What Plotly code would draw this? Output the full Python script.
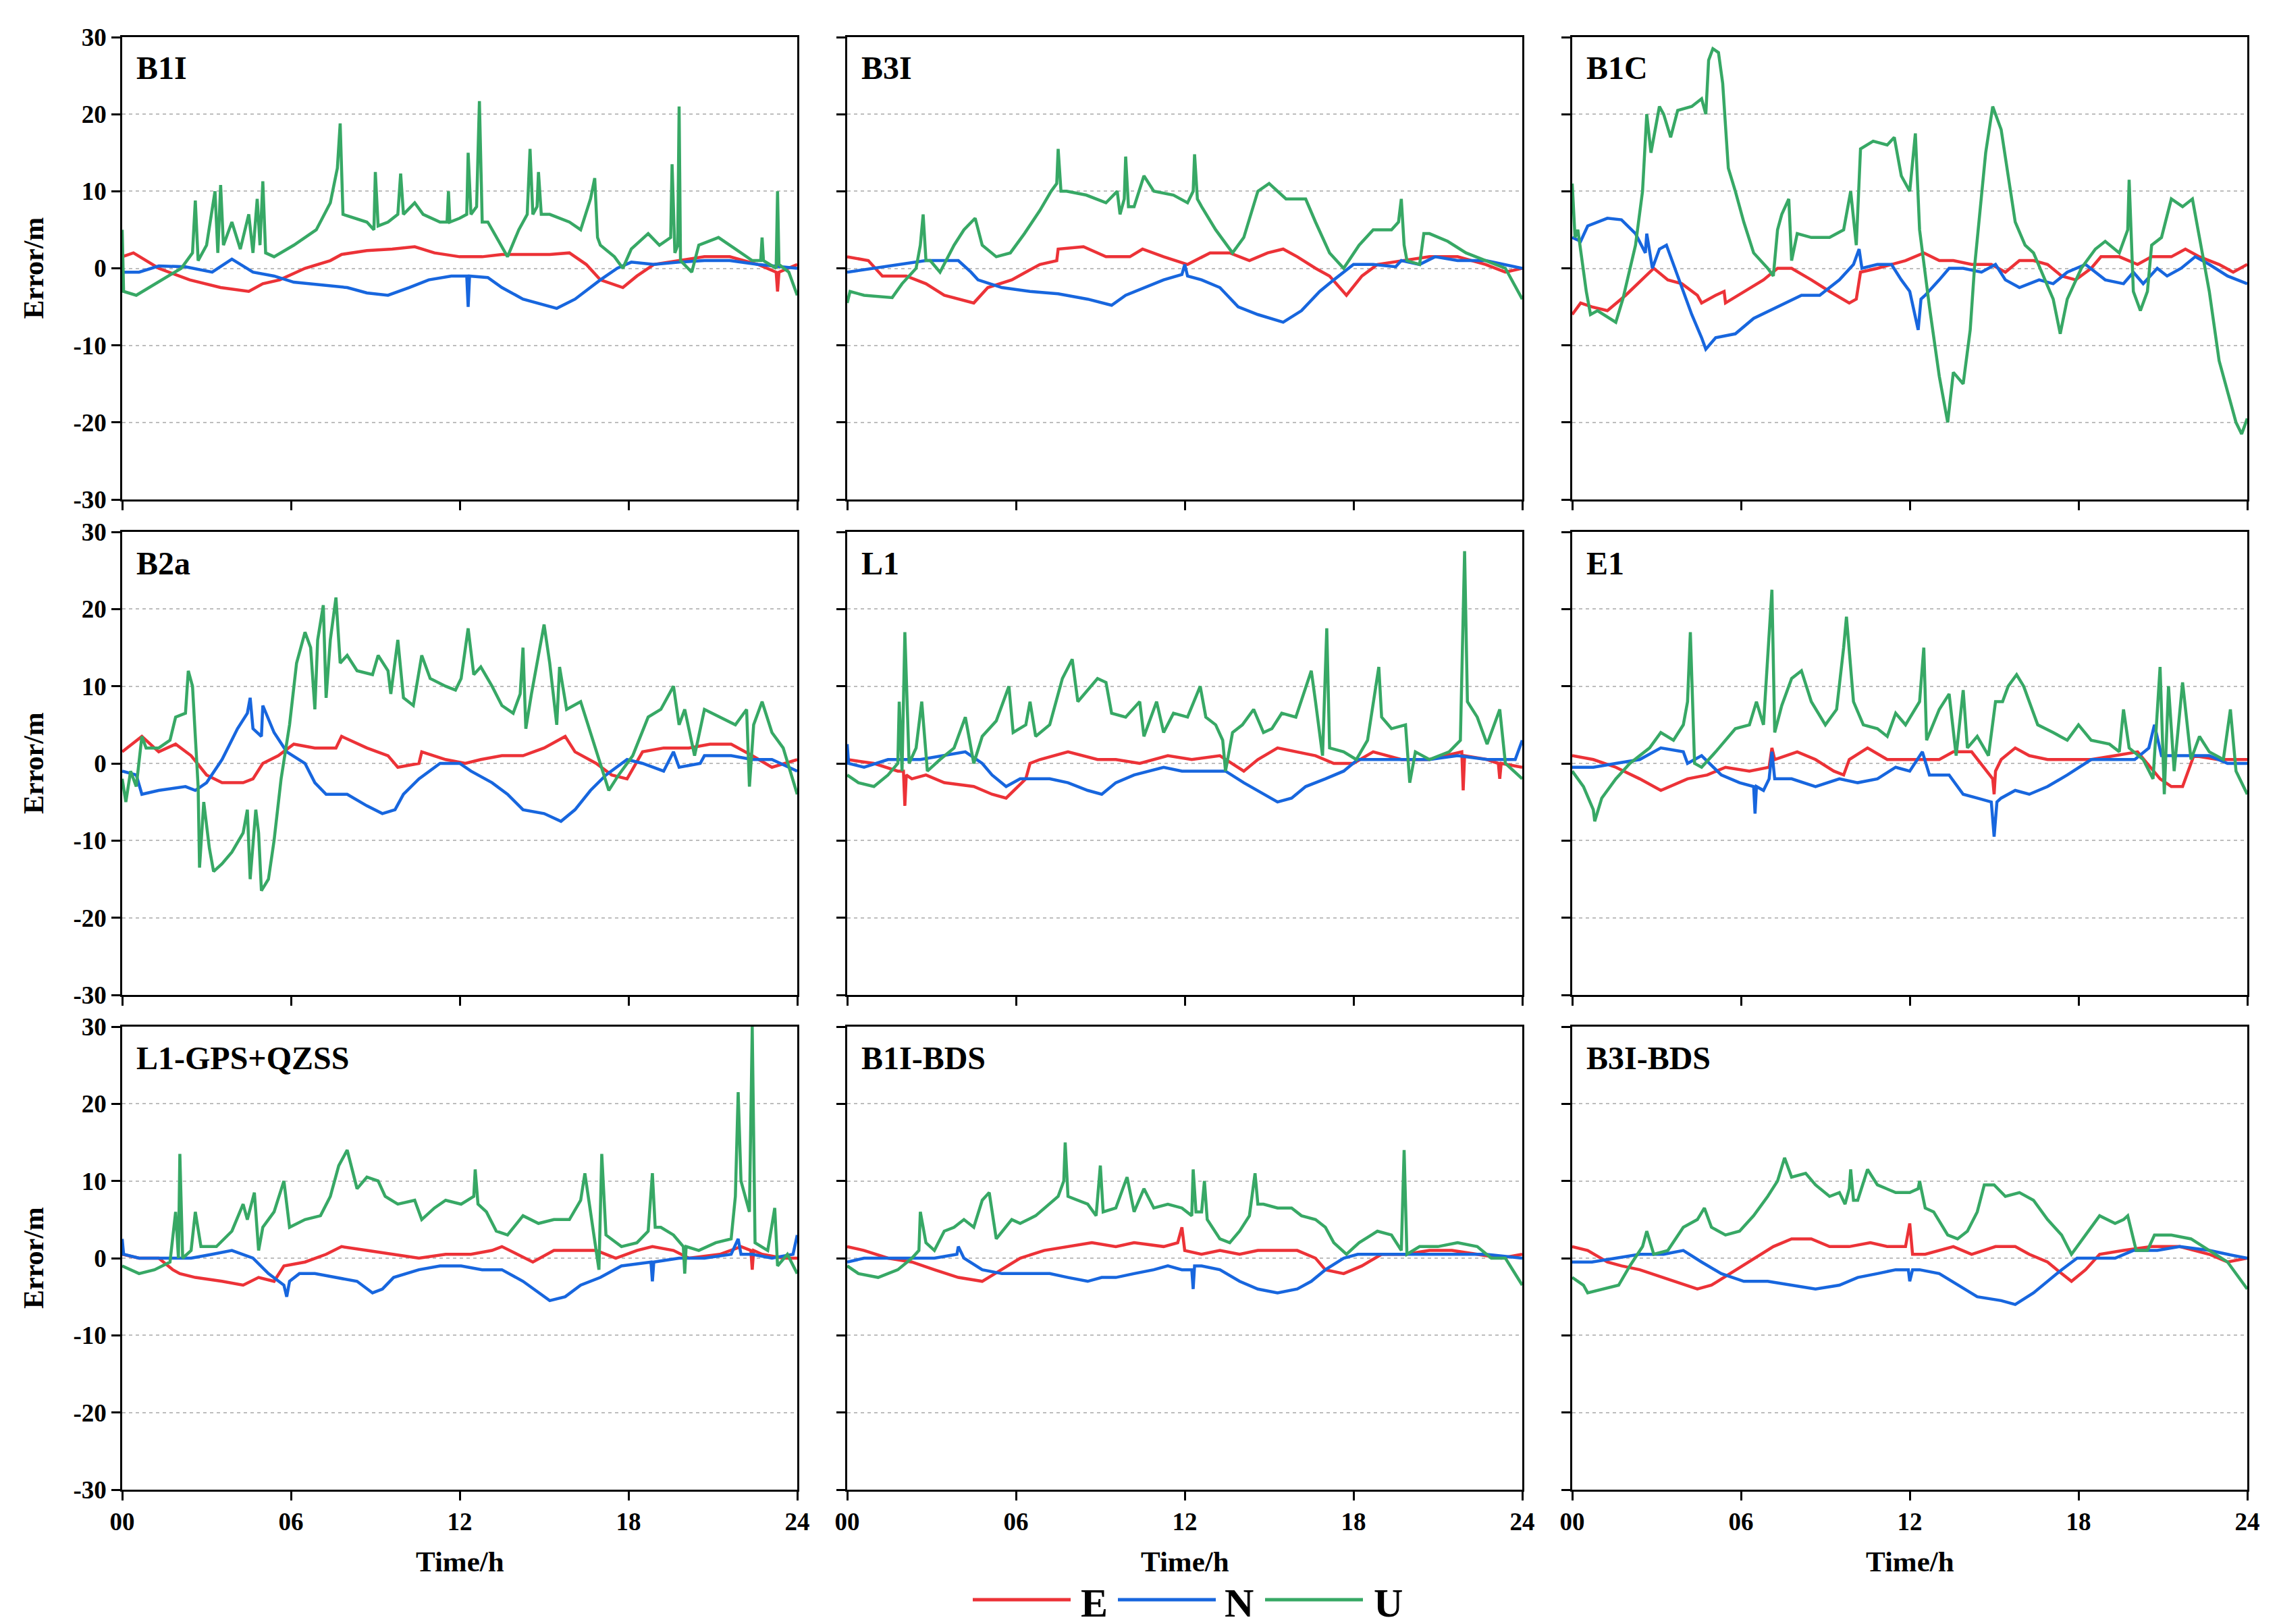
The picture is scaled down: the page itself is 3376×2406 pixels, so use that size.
import plotly.graph_objects as go

# ---------------- data: (time [h], error [m]) ----------------
B1I_E = [(0,1.5),(0.4,2),(1.3,0),(2.4,-1.5),(3.5,-2.5),(4.5,-3),(5.0,-2),(5.6,-1.5),(6.5,0),(7.4,1),(7.8,1.8),(8.7,2.3),(9.6,2.5),(10.4,2.8),(11.1,2),(12.0,1.5),(12.8,1.5),(13.5,1.8),(14.25,1.8),(15.2,1.8),(15.9,2),(16.5,0.5),(17.0,-1.5),(17.8,-2.5),(18.3,-1),(18.9,0.5),(19.8,1),(20.7,1.5),(21.6,1.5),(22.6,0.5),(23.25,-0.5),(23.3,-3),(23.35,-0.5),(24,0.5)]
B1I_N = [(0,-0.5),(0.6,-0.5),(1.3,0.3),(2.25,0.2),(3.2,-0.5),(3.9,1.2),(4.65,-0.5),(5.4,-1),(6.1,-1.8),(7.2,-2.2),(8.0,-2.5),(8.7,-3.2),(9.45,-3.5),(10.2,-2.5),(10.9,-1.5),(11.7,-1),(12.25,-1),(12.3,-5),(12.35,-1),(13.0,-1.2),(13.5,-2.5),(14.25,-4),(15.0,-4.8),(15.45,-5.2),(16.1,-4),(16.65,-2.5),(17.0,-1.5),(17.6,0),(18.1,0.8),(18.9,0.5),(19.8,0.8),(20.7,1),(21.6,1),(22.6,0.5),(24,0)]
B1I_U = [(0,5),(0.05,-3),(0.5,-3.5),(1.2,-2),(2.1,0),(2.5,2),(2.6,8.8),(2.7,1),(3.0,3),(3.3,10),(3.4,2),(3.5,10.8),(3.6,3),(3.9,6),(4.2,2.5),(4.5,7),(4.65,2),(4.8,9),(4.9,3),(5.0,11.3),(5.1,2),(5.4,1.5),(6.1,3),(6.9,5),(7.4,8.5),(7.65,13),(7.75,18.8),(7.85,7),(8.7,6),(8.95,5),(9.0,12.5),(9.1,5.5),(9.45,6),(9.8,7),(9.9,12.3),(10.0,7),(10.4,8.5),(10.7,7),(11.3,6),(11.55,6),(11.6,10),(11.65,6),(12.0,6.5),(12.25,7),(12.3,15),(12.4,7),(12.6,8),(12.7,21.7),(12.8,6),(13.0,6),(13.4,3.5),(13.7,1.5),(14.1,5),(14.4,7),(14.5,15.5),(14.6,7),(14.75,8),(14.8,12.5),(14.9,7),(15.2,7),(15.9,6),(16.3,5),(16.65,9),(16.8,11.7),(16.9,4),(17.0,3),(17.5,1.5),(17.8,0),(18.1,2.5),(18.7,4.5),(19.1,3),(19.5,4),(19.55,13.5),(19.65,2),(19.75,3),(19.8,21),(19.85,1),(20.25,-0.5),(20.5,3),(21.2,4),(21.8,2.5),(22.4,1),(22.7,1),(22.75,4),(22.8,1),(23.25,0),(23.3,10),(23.35,0.5),(23.7,-0.5),(24,-3.5)]

B3I_E = [(0,1.5),(0.75,1),(1.25,-1),(2.1,-1),(2.8,-2),(3.45,-3.5),(4.5,-4.5),(5.0,-2.5),(5.85,-1.5),(6.85,0.5),(7.45,1),(7.5,2.5),(8.4,2.8),(9.2,1.5),(10.05,1.5),(10.5,2.5),(11.25,1.5),(12.1,0.5),(12.9,2),(13.6,2),(14.3,1),(14.95,2),(15.5,2.5),(16.0,1.5),(16.65,0),(17.15,-1),(17.75,-3.5),(18.3,-1),(18.85,0.5),(19.7,1),(20.7,1.5),(21.7,1.5),(22.7,0.5),(23.4,-0.5),(24,0)]
B3I_N = [(0,-0.5),(0.95,0),(1.8,0.5),(2.8,1),(3.95,1),(4.4,-0.5),(4.65,-1.5),(5.5,-2.5),(6.5,-3),(7.5,-3.3),(8.55,-4),(9.4,-4.8),(9.9,-3.5),(10.55,-2.5),(11.25,-1.5),(11.9,-0.8),(12.0,0.5),(12.1,-1),(12.6,-1.5),(13.25,-2.5),(13.9,-5),(14.6,-6),(15.5,-7),(16.15,-5.5),(16.8,-3),(17.3,-1.5),(18.0,0.5),(18.7,0.5),(19.5,0.2),(19.7,1),(20.35,0.5),(20.9,1.5),(21.7,1),(22.7,1),(24,0)]
B3I_U = [(0,-4.5),(0.1,-3),(0.6,-3.5),(1.6,-3.8),(1.95,-2),(2.45,0),(2.6,3),(2.7,7),(2.8,1),(2.95,1),(3.3,-0.5),(3.8,3),(4.15,5),(4.55,6.5),(4.8,3),(5.3,1.5),(5.8,2),(6.3,4.5),(6.85,7.5),(7.25,10),(7.45,11),(7.5,15.5),(7.6,10),(7.8,10),(8.5,9.5),(9.2,8.5),(9.6,10),(9.7,7),(9.85,9),(9.9,14.5),(10.0,8),(10.2,8),(10.55,12),(10.9,10),(11.6,9.5),(12.1,8.5),(12.3,10),(12.35,14.8),(12.45,9),(12.6,8),(13.1,5),(13.7,2),(14.1,4),(14.6,10),(15.0,11),(15.6,9),(16.3,9),(16.65,6),(17.15,2),(17.65,0),(18.2,3),(18.7,5),(19.35,5),(19.6,6),(19.7,9),(19.8,3),(19.9,1),(20.35,0.5),(20.5,4.5),(20.7,4.5),(21.35,3.5),(22.0,2),(22.7,1),(23.4,0),(24,-4)]

B1C_E = [(0,-6),(0.3,-4.5),(0.7,-5),(1.25,-5.5),(1.9,-3.5),(2.6,-1),(2.9,0),(3.4,-1.5),(3.9,-2),(4.45,-3.5),(4.6,-4.5),(5.1,-3.5),(5.4,-3),(5.45,-4.5),(6.1,-3),(6.8,-1.5),(7.3,0),(7.8,0),(8.5,-1.5),(9.15,-3),(9.85,-4.5),(10.1,-4),(10.25,-0.5),(10.85,0),(11.85,1),(12.5,2),(13.05,1),(13.55,1),(14.2,0.5),(14.9,0.5),(15.4,-0.5),(15.9,1),(16.4,1),(16.9,0.5),(17.4,-1),(17.9,-1.5),(18.45,0),(18.8,1.5),(19.45,1.5),(20.1,0.5),(20.6,1.5),(21.3,1.5),(21.8,2.5),(22.3,1.5),(23.0,0.5),(23.5,-0.5),(24,0.5)]
B1C_N = [(0,4),(0.3,3.5),(0.55,5.5),(1.25,6.5),(1.75,6.3),(2.25,4.5),(2.6,2),(2.65,4.5),(2.85,0),(3.1,2.5),(3.35,3),(3.6,0.5),(3.95,-3),(4.25,-6),(4.6,-9),(4.75,-10.5),(5.1,-9),(5.8,-8.5),(6.45,-6.5),(7.3,-5),(8.15,-3.5),(8.8,-3.5),(9.5,-1.5),(10.0,0.5),(10.2,2.5),(10.3,0),(10.85,0.5),(11.35,0.5),(11.7,-1.5),(12.0,-3),(12.3,-8),(12.4,-4),(12.55,-3.5),(13.05,-1.5),(13.4,0),(13.9,0),(14.55,-0.5),(15.05,0.5),(15.4,-1.5),(15.9,-2.5),(16.6,-1.5),(17.1,-2),(17.6,-0.5),(18.25,0.5),(18.95,-1.5),(19.6,-2),(19.95,-0.5),(20.3,-2),(20.8,0),(21.15,-1),(21.65,0),(22.15,1.5),(22.65,0.5),(23.3,-1),(24,-2)]
B1C_U = [(0,11),(0.1,4),(0.2,5),(0.5,-3),(0.65,-6),(0.9,-5.5),(1.55,-7),(1.8,-4),(2.25,3),(2.5,10),(2.65,20),(2.8,15),(2.95,18),(3.1,21),(3.25,20),(3.5,17),(3.75,20.5),(4.25,21),(4.6,22),(4.75,20),(4.85,27),(5.0,28.5),(5.2,28),(5.35,24),(5.55,13),(5.8,10),(6.1,6),(6.45,2),(6.95,0),(7.15,-1),(7.3,5),(7.45,7),(7.7,9),(7.8,1),(8.0,4.5),(8.5,4),(9.15,4),(9.65,5),(9.9,10),(10.1,3),(10.25,15.5),(10.7,16.5),(11.2,16),(11.45,17),(11.7,12),(12.0,10),(12.2,17.5),(12.35,5),(12.7,-5),(13.05,-14),(13.35,-20),(13.55,-13.5),(13.9,-15),(14.15,-8),(14.3,0),(14.5,8),(14.7,15),(14.95,21),(15.25,18),(15.5,12),(15.75,6),(16.1,3),(16.4,2),(16.75,-1),(17.1,-4),(17.35,-8.5),(17.6,-4),(18.1,0),(18.6,2.5),(18.95,3.5),(19.45,2),(19.75,5),(19.8,11.5),(19.95,-3),(20.2,-5.5),(20.45,-3),(20.6,3),(20.95,4),(21.3,9),(21.7,8),(22.05,9),(22.3,4),(22.65,-3),(23.0,-12),(23.3,-16),(23.6,-20),(23.8,-21.5),(24,-19.5)]

B2a_E = [(0,1.5),(0.7,3.5),(1.3,1.5),(1.9,2.5),(2.45,1),(3.0,-1.5),(3.55,-2.5),(4.3,-2.5),(4.65,-2),(5.0,0),(5.55,1),(6.1,2.5),(6.85,2),(7.6,2),(7.8,3.5),(8.7,2),(9.45,1),(9.8,-0.5),(10.55,0),(10.65,1.5),(11.5,0.5),(12.2,0),(12.75,0.5),(13.5,1),(14.25,1),(15.0,2),(15.75,3.5),(16.1,1.5),(16.85,0),(17.4,-1.5),(17.95,-2),(18.5,1.5),(19.25,2),(20.15,2),(20.9,2.5),(21.65,2.5),(22.4,1),(23.1,-0.5),(24,0.5)]
B2a_N = [(0,-1),(0.5,-1.5),(0.7,-4),(1.3,-3.5),(2.25,-3),(2.6,-3.5),(3.0,-2.5),(3.55,0.5),(4.1,4.5),(4.45,6.5),(4.55,8.5),(4.65,4.5),(4.95,3.5),(5.0,7.5),(5.4,4),(5.85,1.5),(6.5,0),(6.85,-2.5),(7.25,-4),(8.0,-4),(8.7,-5.5),(9.25,-6.5),(9.7,-6),(10.0,-4),(10.55,-2),(11.3,0),(12.0,0),(12.4,-1),(13.15,-2.5),(13.7,-4),(14.25,-6),(15.0,-6.5),(15.6,-7.5),(16.1,-6),(16.65,-3.5),(17.2,-1.5),(17.95,0.5),(18.5,0),(19.25,-1),(19.6,1.5),(19.8,-0.5),(20.55,0),(20.7,1),(21.65,1),(22.4,0.5),(23.1,0.5),(24,-1)]
B2a_U = [(0,-2),(0.13,-5),(0.3,-1),(0.5,-3),(0.7,3.5),(0.85,2),(1.3,2),(1.7,3),(1.9,6),(2.25,6.5),(2.35,12),(2.5,10),(2.7,-3),(2.75,-13.5),(2.9,-5),(3.1,-11),(3.25,-14),(3.55,-13),(3.9,-11.5),(4.3,-9),(4.45,-6),(4.55,-15),(4.75,-6),(4.85,-9),(4.95,-16.5),(5.2,-15),(5.4,-10),(5.65,-2),(5.95,5),(6.2,13),(6.5,17),(6.7,15),(6.85,7),(6.95,16),(7.15,20.5),(7.25,8.5),(7.4,16),(7.6,21.5),(7.75,13),(8.0,14),(8.35,12),(8.9,11.5),(9.1,14),(9.45,12),(9.55,9),(9.8,16),(10.0,8.5),(10.35,7.5),(10.65,14),(10.95,11),(11.5,10),(11.85,9.5),(12.05,11),(12.3,17.5),(12.5,11.5),(12.75,12.5),(13.15,10),(13.5,7.5),(13.9,6.5),(14.15,9),(14.25,15),(14.35,4.5),(14.55,9),(14.8,14),(15.0,18),(15.2,13),(15.45,5),(15.55,12.5),(15.8,7),(16.3,8),(16.65,4),(17.0,0),(17.3,-3.5),(17.65,-1.5),(18.15,1),(18.7,6),(19.15,7),(19.6,10),(19.8,5),(20.0,7),(20.35,1),(20.7,7),(21.25,6),(21.8,5),(22.2,7),(22.3,-3),(22.45,5),(22.75,8),(23.1,4),(23.5,2),(24,-4)]

L1_E = [(0,0.5),(0.95,0),(1.8,-1),(2.0,-1),(2.05,-5.5),(2.1,-1.5),(2.3,-2),(2.8,-1.5),(3.45,-2.5),(4.5,-3),(5.15,-4),(5.65,-4.5),(6.35,-2),(6.5,0),(6.85,0.5),(7.85,1.5),(8.9,0.5),(9.55,0.5),(10.4,0),(11.4,1),(12.25,0.5),(13.25,1),(14.1,-1),(14.6,0.5),(15.3,2),(15.95,1.5),(16.65,1),(17.3,0),(18.0,0),(18.7,1.5),(19.7,0.5),(20.7,0.5),(21.85,1.5),(21.9,-3.5),(21.95,1),(22.75,0.5),(23.15,0),(23.2,-2),(23.25,0),(24,-0.5)]
L1_N = [(0,2.5),(0.05,0),(0.6,-0.5),(1.45,0.5),(2.6,0.5),(3.45,1),(4.2,1.5),(4.8,0),(5.15,-1.5),(5.65,-3),(6.15,-2),(6.5,-2),(7.2,-2),(7.85,-2.5),(8.55,-3.5),(9.05,-4),(9.55,-2.5),(10.2,-1.5),(11.25,-0.5),(11.9,-1),(12.6,-1),(13.45,-1),(14.1,-2.5),(14.8,-4),(15.3,-5),(15.8,-4.5),(16.3,-3),(17.0,-2),(17.65,-1),(18.15,0.5),(18.85,0.5),(19.7,0.5),(20.7,0.5),(21.7,1),(22.75,0.5),(23.75,0.5),(24,3)]
L1_U = [(0,-1.5),(0.4,-2.5),(0.95,-3),(1.45,-1.5),(1.8,0),(1.85,8),(1.95,-1),(2.05,17),(2.2,0),(2.45,2),(2.65,8),(2.85,-1),(3.3,0.5),(3.8,2),(4.2,6),(4.5,0),(4.8,3.5),(5.3,5.5),(5.75,10),(5.9,4),(6.35,5),(6.5,8),(6.7,3.5),(7.2,5),(7.65,11),(8.0,13.5),(8.2,8),(8.55,9.5),(8.9,11),(9.2,10.5),(9.4,6.5),(9.9,6),(10.4,8),(10.55,3.5),(11.0,8),(11.25,4),(11.6,6.5),(12.1,6),(12.55,10),(12.75,6),(13.1,5),(13.35,3),(13.45,-1),(13.7,4),(14.05,5),(14.45,7),(14.8,4),(15.1,4.5),(15.45,6.5),(15.95,6),(16.5,12),(16.65,8),(16.9,1),(17.05,17.5),(17.15,2),(17.65,1.5),(18.1,0.5),(18.5,3),(18.9,12.5),(19.0,6),(19.35,4.5),(19.85,5),(20.0,-2.5),(20.2,1.5),(20.7,0.5),(21.4,1.5),(21.8,3),(21.95,27.5),(22.05,8),(22.4,6),(22.75,2.5),(23.2,7),(23.4,0),(24,-2)]

E1_E = [(0,1),(0.75,0.5),(1.55,-0.5),(2.4,-2),(3.15,-3.5),(4.1,-2),(4.8,-1.5),(5.45,-0.5),(6.3,-1),(7.0,-0.5),(7.1,2),(7.2,0.5),(8.0,1.5),(8.65,0.5),(9.3,-1),(9.65,-1.5),(9.85,0.5),(10.5,2),(11.2,0.5),(11.85,0.5),(12.5,0.5),(13.05,0.5),(13.55,1.5),(14.2,1.5),(14.95,-2),(15.0,-4),(15.05,-1),(15.25,0.5),(15.75,2),(16.25,1),(16.9,0.5),(17.6,0.5),(18.45,0.5),(19.3,1),(20.1,1.5),(20.9,-2),(21.3,-3),(21.7,-3),(22.1,1),(22.95,0.5),(24,0.5)]
E1_N = [(0,-0.5),(0.75,-0.5),(1.55,0),(2.4,0.5),(3.15,2),(3.95,1.5),(4.1,0),(4.6,1),(5.3,-1.5),(5.95,-2.5),(6.45,-3),(6.5,-6.5),(6.55,-3),(6.8,-3.5),(7.0,-2),(7.1,1.5),(7.2,-2),(7.8,-2),(8.65,-3),(9.5,-2),(10.15,-2.5),(10.85,-2),(11.5,-0.5),(12.0,-1),(12.45,1.5),(12.7,-1.5),(13.4,-1.5),(13.9,-4),(14.4,-4.5),(14.9,-5),(15.0,-9.5),(15.1,-5),(15.25,-4.5),(15.75,-3.5),(16.25,-4),(16.9,-3),(17.6,-1.5),(18.45,0.5),(19.3,0.5),(20.0,0.5),(20.5,2),(20.7,5),(20.95,1),(21.65,1),(22.65,1),(23.3,0),(24,0)]
E1_U = [(0,-1),(0.4,-3),(0.75,-6),(0.8,-7.5),(1.05,-4.5),(1.55,-2),(2.05,0),(2.75,2),(3.15,4),(3.6,3),(3.95,5),(4.1,8),(4.2,17),(4.35,0),(4.6,-0.5),(5.1,1.5),(5.8,4.5),(6.3,5),(6.55,8),(6.8,5),(7.1,22.5),(7.2,4),(7.45,7.5),(7.8,11),(8.15,12),(8.5,8),(9.0,5),(9.4,7),(9.65,15),(9.75,19),(10.0,8),(10.35,5),(10.85,4.5),(11.2,3.5),(11.5,6.5),(11.85,5),(12.35,8),(12.5,15),(12.6,3),(13.05,7),(13.4,9),(13.65,1),(13.9,9.5),(14.05,2),(14.4,3.5),(14.8,1),(15.05,8),(15.3,8),(15.5,10),(15.8,11.5),(16.05,10),(16.55,5),(17.1,4),(17.6,3),(18.0,5),(18.45,3),(19.1,2.5),(19.45,1.5),(19.6,7),(19.8,2),(20.3,0.5),(20.65,-2),(20.9,12.5),(21.05,-4),(21.2,10),(21.4,-1),(21.7,10.5),(22.0,0.5),(22.3,3.5),(22.65,1.5),(23.15,0.5),(23.4,7),(23.6,-1),(24,-4)]

L1G_E = [(0,0.5),(0.6,0),(1.3,0),(1.8,-1.5),(2.05,-2),(2.6,-2.5),(3.55,-3),(4.3,-3.5),(4.85,-2.5),(5.4,-3),(5.75,-1),(6.5,-0.5),(7.25,0.5),(7.8,1.5),(8.7,1),(9.65,0.5),(10.55,0),(11.5,0.5),(12.4,0.5),(13.15,1),(13.5,1.5),(14.05,0.5),(14.6,-0.5),(15.35,1),(16.1,1),(16.85,1),(17.55,0),(18.3,1),(18.85,1.5),(19.6,1),(20.15,0),(21.25,0.5),(22.0,1.5),(22.35,1),(22.4,-1.5),(22.45,1),(22.75,0.5),(23.5,0),(24,0)]
L1G_N = [(0,2.5),(0.05,0.5),(0.6,0),(1.3,0),(2.45,0),(3.2,0.5),(3.9,1),(4.65,0),(5.2,-2),(5.75,-3.5),(5.85,-5),(5.95,-3),(6.3,-2),(6.85,-2),(7.6,-2.5),(8.35,-3),(8.9,-4.5),(9.25,-4),(9.65,-2.5),(10.55,-1.5),(11.3,-1),(12.05,-1),(12.8,-1.5),(13.5,-1.5),(14.25,-3),(14.8,-4.5),(15.2,-5.5),(15.75,-5),(16.3,-3.5),(17.0,-2.5),(17.75,-1),(18.8,-0.5),(18.85,-3),(18.9,-0.5),(19.8,0),(20.7,0),(21.65,0.5),(21.9,2.5),(22.0,0.5),(22.4,0.5),(23.1,0),(23.85,0.5),(24,3)]
L1G_U = [(0,-1),(0.6,-2),(1.15,-1.5),(1.7,-0.5),(1.9,6),(2.0,0),(2.05,13.5),(2.15,0),(2.45,1),(2.6,6),(2.8,1.5),(3.35,1.5),(3.9,3.5),(4.3,7),(4.45,5),(4.7,8.5),(4.85,1),(5.0,4),(5.4,6),(5.75,10),(5.95,4),(6.5,5),(7.05,5.5),(7.4,8),(7.7,12),(8.0,14),(8.35,9),(8.7,10.5),(9.1,10),(9.35,8),(9.8,7),(10.4,7.5),(10.65,5),(11.1,6.5),(11.5,7.5),(12.05,7),(12.5,8),(12.55,11.5),(12.65,7),(12.95,6),(13.3,3.5),(13.7,3),(14.25,5.5),(14.8,4.5),(15.35,5),(15.9,5),(16.3,7.5),(16.45,11),(16.65,6),(16.95,-1.5),(17.05,13.5),(17.2,3),(17.75,1.5),(18.3,2),(18.7,3.5),(18.85,11),(18.95,4),(19.15,4),(19.6,3),(19.95,1.5),(20.0,-2),(20.05,1.5),(20.5,1),(21.1,2),(21.65,2.5),(21.8,8),(21.9,21.5),(22.0,10),(22.3,6),(22.4,30),(22.5,2),(22.95,1),(23.2,6.5),(23.3,-1),(23.65,0.5),(24,-2)]

BDS1_E = [(0,1.5),(0.6,1),(1.45,0),(2.3,-0.5),(3.1,-1.5),(3.95,-2.5),(4.8,-3),(5.5,-1.5),(6.15,0),(7.0,1),(7.85,1.5),(8.7,2),(9.55,1.5),(10.2,2),(11.25,1.5),(11.75,2),(11.9,4),(12.0,1),(12.6,0.5),(13.25,1),(13.95,0.5),(14.6,1),(15.3,1),(16.0,1),(16.65,0),(17.0,-1.5),(17.65,-2),(18.3,-1),(19.0,0.5),(19.85,0.5),(20.7,1),(21.5,1),(22.4,0.5),(23.25,0),(24,0.5)]
BDS1_N = [(0,-0.5),(0.6,0),(1.45,0),(2.3,0),(3.1,0),(3.9,0.5),(3.95,1.5),(4.15,0),(4.8,-1.5),(5.5,-2),(6.35,-2),(7.2,-2),(7.85,-2.5),(8.55,-3),(9.05,-2.5),(9.55,-2.5),(10.2,-2),(10.9,-1.5),(11.4,-1),(11.9,-1.5),(12.25,-1.5),(12.3,-4),(12.35,-1),(12.6,-1),(13.25,-1.5),(13.95,-3),(14.6,-4),(15.3,-4.5),(16.0,-4),(16.5,-3),(17.0,-1.5),(17.65,0),(18.15,0.5),(19.0,0.5),(19.7,0.5),(20.7,0.5),(21.7,0.5),(22.7,0.5),(24,0)]
BDS1_U = [(0,-1),(0.4,-2),(1.1,-2.5),(1.8,-1.5),(2.3,0),(2.55,1),(2.6,6),(2.8,2),(3.1,1),(3.45,3.5),(3.8,4),(4.15,5),(4.5,4),(4.8,7.5),(5.05,8.5),(5.3,2.5),(5.85,5),(6.15,4.5),(6.7,5.5),(7.2,7),(7.5,8),(7.7,10),(7.75,15),(7.85,8),(8.55,7),(8.85,5.5),(9.0,12),(9.1,6),(9.55,6.5),(9.8,9),(9.95,10.5),(10.2,6),(10.55,9),(10.9,6.5),(11.4,7),(11.9,6.5),(12.25,5.5),(12.3,11.5),(12.4,6),(12.6,6),(12.7,10),(12.8,5),(13.25,2.5),(13.6,2),(13.95,3.5),(14.3,5.5),(14.5,11),(14.6,7),(14.8,7),(15.3,6.5),(15.8,6.5),(16.15,5.5),(16.65,5),(17.0,4),(17.3,2),(17.75,0.5),(18.2,2),(18.85,3.5),(19.35,3),(19.7,1),(19.8,14),(19.9,0.5),(20.35,1.5),(21.0,1.5),(21.7,2),(22.4,1.5),(22.9,0),(23.4,0),(24,-3.5)]

BDS3_E = [(0,1.5),(0.55,1),(1.25,-0.5),(1.75,-1),(2.4,-1.5),(3.25,-2.5),(4.1,-3.5),(4.45,-4),(4.95,-3.5),(5.6,-2),(6.3,-0.5),(7.15,1.5),(7.8,2.5),(8.5,2.5),(9.15,1.5),(9.85,1.5),(10.6,2),(11.2,1.5),(11.85,1.5),(12.0,4.5),(12.1,0.5),(12.55,0.5),(13.55,1.5),(14.2,0.5),(15.05,1.5),(15.75,1.5),(16.25,0.5),(16.9,-0.5),(17.4,-2),(17.75,-3),(18.25,-1.5),(18.75,0.5),(19.6,1),(20.6,1.5),(21.6,1.5),(22.65,0.5),(23.3,-0.5),(24,0)]
BDS3_N = [(0,-0.5),(0.7,-0.5),(1.55,0),(2.4,0.5),(3.25,0.5),(3.95,1),(4.6,-0.5),(5.3,-2),(6.1,-3),(6.95,-3),(7.8,-3.5),(8.65,-4),(9.5,-3.5),(10.15,-2.5),(10.85,-2),(11.5,-1.5),(11.95,-1.5),(12.0,-3),(12.1,-1.5),(12.35,-1.5),(13.05,-2),(13.7,-3.5),(14.4,-5),(15.25,-5.5),(15.75,-6),(16.4,-4.5),(16.9,-3),(17.4,-1.5),(17.95,0),(18.6,0),(19.3,0),(19.95,1),(20.8,1),(21.6,1.5),(22.65,1),(23.3,0.5),(24,0)]
BDS3_U = [(0,-2.5),(0.4,-3.5),(0.55,-4.5),(1.05,-4),(1.65,-3.5),(2.05,-1),(2.5,1.5),(2.65,3.5),(2.9,0.5),(3.4,1),(3.95,4),(4.45,5),(4.7,6.5),(4.95,4),(5.45,3),(5.95,3.5),(6.45,5.5),(6.95,8),(7.3,10),(7.55,13),(7.8,10.5),(8.3,11),(8.65,9.5),(9.15,8),(9.5,8.5),(9.7,7),(9.85,9),(9.9,11.5),(10.0,7.5),(10.15,7.5),(10.5,11.5),(10.85,9.5),(11.2,9),(11.5,8.5),(12.0,8.5),(12.3,9),(12.35,10),(12.55,6.5),(12.85,6),(13.35,3),(13.7,2.5),(14.05,3.5),(14.4,6),(14.65,9.5),(15.0,9.5),(15.4,8),(15.9,8.5),(16.4,7.5),(16.9,5),(17.4,3),(17.75,0.5),(18.25,3),(18.75,5.5),(19.3,4.5),(19.6,5),(19.75,5.5),(20.05,1),(20.45,1),(20.7,3),(21.3,3),(22.0,2.5),(22.65,1),(23.3,-0.5),(24,-4)]

PANEL_TITLES = ["B1I", "B3I", "B1C", "B2a", "L1", "E1", "L1-GPS+QZSS", "B1I-BDS", "B3I-BDS"]
PANEL_DATA = [
    (B1I_E, B1I_N, B1I_U), (B3I_E, B3I_N, B3I_U), (B1C_E, B1C_N, B1C_U),
    (B2a_E, B2a_N, B2a_U), (L1_E, L1_N, L1_U), (E1_E, E1_N, E1_U),
    (L1G_E, L1G_N, L1G_U), (BDS1_E, BDS1_N, BDS1_U), (BDS3_E, BDS3_N, BDS3_U),
]
COMPONENTS = ["E", "N", "U"]
X_TICKS = [0, 6, 12, 18, 24]
X_TICKTEXT = ["00", "06", "12", "18", "24"]
Y_TICKS = [-30, -20, -10, 0, 10, 20, 30]
Y_TICKTEXT = ["-30", "-20", "-10", "0", "10", "20", "30"]

# ---------------- styling ----------------
COLORS = {"E": "#EC3237", "N": "#1766DE", "U": "#37A865"}
FONT = "Liberation Serif"
W, H = 3376, 2406
ML, MR, MT, MB = 173, 55, 47, 207
PW, PH = W - ML - MR, H - MT - MB

def px_x(px):
    return (px - ML) / PW

def px_y(py):
    return (H - MB - py) / PH

col_dom = [[px_x(173), px_x(1173)], [px_x(1247), px_x(2247)], [px_x(2321), px_x(3321)]]
row_dom = [[px_y(732), px_y(47)], [px_y(1466), px_y(780)], [px_y(2199), px_y(1513)]]

fig = go.Figure()
layout_axes = {}
annotations = []

for i, (title, series) in enumerate(zip(PANEL_TITLES, PANEL_DATA)):
    r, c = divmod(i, 3)
    k = i + 1
    xa = "x" if k == 1 else f"x{k}"
    ya = "y" if k == 1 else f"y{k}"
    for comp, pts in zip(COMPONENTS, series):
        fig.add_trace(go.Scatter(
            x=[p[0] for p in pts], y=[p[1] for p in pts],
            mode="lines", name=comp, showlegend=False,
            line=dict(color=COLORS[comp], width=4.5),
            xaxis=xa, yaxis=ya, hoverinfo="skip",
        ))
    axis_common = dict(
        showline=True, linecolor="black", linewidth=2.5, mirror=True,
        ticks="outside", ticklen=13, tickwidth=2.5, tickcolor="black",
        tickfont=dict(family=FONT, size=37, color="black", weight="bold"),
        zeroline=False,
    )
    layout_axes["xaxis" if k == 1 else f"xaxis{k}"] = dict(
        domain=col_dom[c], anchor=ya, range=[0, 24],
        tickmode="array", tickvals=X_TICKS, ticktext=X_TICKTEXT,
        showticklabels=(r == 2), showgrid=False, **axis_common,
    )
    layout_axes["yaxis" if k == 1 else f"yaxis{k}"] = dict(
        domain=row_dom[r], anchor=xa, range=[-30, 30],
        tickmode="array", tickvals=Y_TICKS, ticktext=Y_TICKTEXT,
        showticklabels=(c == 0), showgrid=True, gridcolor="#BDBDBD",
        gridwidth=2, griddash="5px,5px", **axis_common,
    )
    annotations.append(dict(
        text=title, xref=f"{xa} domain", yref=f"{ya} domain",
        x=0.019, y=1 - 46 / 686, xanchor="left", yanchor="middle", showarrow=False,
        font=dict(family=FONT, size=48, color="black", weight="bold"),
    ))

for r in range(3):
    annotations.append(dict(
        text="Error/m", xref="paper", yref="paper",
        x=px_x(42), y=sum(row_dom[r]) / 2, textangle=-90,
        xanchor="center", yanchor="middle", showarrow=False,
        font=dict(family=FONT, size=42, color="black", weight="bold"),
    ))
for c in range(3):
    annotations.append(dict(
        text="Time/h", xref="paper", yref="paper",
        x=sum(col_dom[c]) / 2, y=px_y(2305),
        xanchor="center", yanchor="middle", showarrow=False,
        font=dict(family=FONT, size=43, color="black", weight="bold"),
    ))

# custom legend (long line samples as in the reference)
shapes = []
legend_items = [("E", 1433, 1578, 1613), ("N", 1648, 1793, 1828), ("U", 1866, 2011, 2048)]
for comp, x0, x1, xt in legend_items:
    shapes.append(dict(type="line", xref="paper", yref="paper",
                       x0=px_x(x0), x1=px_x(x1), y0=px_y(2362), y1=px_y(2362),
                       line=dict(color=COLORS[comp], width=5)))
    annotations.append(dict(
        text=comp, xref="paper", yref="paper", x=px_x(xt), y=px_y(2367),
        xanchor="center", yanchor="middle", showarrow=False,
        font=dict(family=FONT, size=60, color="black", weight="bold"),
    ))

fig.update_layout(
    width=W, height=H,
    margin=dict(l=ML, r=MR, t=MT, b=MB),
    paper_bgcolor="white", plot_bgcolor="white",
    showlegend=False, annotations=annotations, shapes=shapes,
    **layout_axes,
)

fig.write_html("out.html")
